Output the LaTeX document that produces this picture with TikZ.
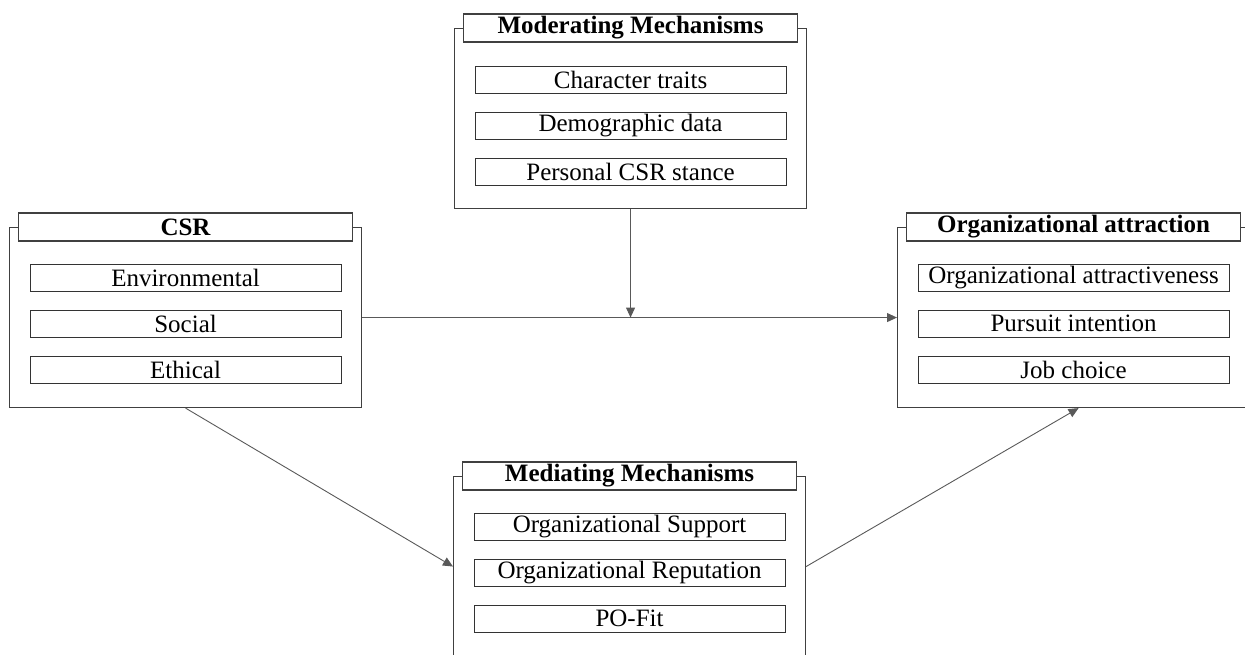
\documentclass[tikz,border=0pt]{standalone}
\usepackage{fontspec}
\setmainfont{Liberation Serif}
\usepackage{tikz}
\usetikzlibrary{arrows.meta, positioning}

\begin{document}
\begin{tikzpicture}[
    x=1pt, y=-1pt,
    node distance=18pt,
    frame/.style={rectangle, draw=black!75, line width=1.1pt, minimum width=352pt, minimum height=180pt, anchor=north west, inner sep=0pt},
    header/.style={rectangle, draw=black!75, fill=white, line width=1.1pt, minimum width=334pt, minimum height=28pt, inner sep=0pt, font=\fontsize{25}{28}\selectfont\bfseries},
    item/.style={rectangle, draw=black!80, line width=1.1pt, minimum width=311pt, minimum height=27pt, inner sep=0pt, font=\fontsize{25}{28}\selectfont},
    arr/.style={draw=black!65, line width=0.9pt, -{Triangle[length=10pt,width=9pt]}}
]
\clip (0,0) rectangle (1245,654);

% Moderating
\node[frame] (modF) at (454,28) {};
\node[header] (modH) at (modF.north) {Moderating Mechanisms};
\node[item, below=23pt of modH] (mod1) {Character traits};
\node[item, below=of mod1] (mod2) {Demographic data};
\node[item, below=of mod2] (mod3) {Personal CSR stance};

% CSR
\node[frame] (csrF) at (9,227) {};
\node[header] (csrH) at (csrF.north) {CSR};
\node[item, below=22pt of csrH] (csr1) {Environmental};
\node[item, below=of csr1] (csr2) {Social};
\node[item, below=of csr2] (csr3) {Ethical};

% Organizational attraction
\node[frame] (orgF) at (897,227) {};
\node[header] (orgH) at (orgF.north) {Organizational attraction};
\node[item, below=22pt of orgH] (org1) {Organizational attractiveness};
\node[item, below=of org1] (org2) {Pursuit intention};
\node[item, below=of org2] (org3) {Job choice};

% Mediating
\node[frame] (medF) at (453,476) {};
\node[header] (medH) at (medF.north) {Mediating Mechanisms};
\node[item, below=22pt of medH] (med1) {Organizational Support};
\node[item, below=of med1] (med2) {Organizational Reputation};
\node[item, below=of med2] (med3) {PO-Fit};

\draw[arr] (csrF.east) -- (orgF.west);
\draw[arr] (modF.south) -- (modF.south |- csrF.east);
\draw[arr] (csrF.south) -- (medF.west);
\draw[arr] (medF.east) -- ([xshift=5pt]orgF.south);

\end{tikzpicture}
\end{document}
